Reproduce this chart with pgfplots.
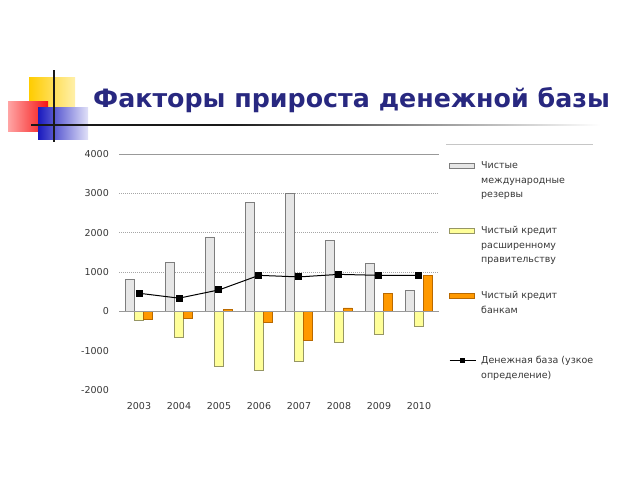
\documentclass[border=0pt]{standalone}
\usepackage{pgfplots}
\pgfplotsset{compat=1.18}
\usepackage{fontspec}
\setmainfont{DejaVu Sans}
\definecolor{titleblue}{RGB}{40,40,128}
\definecolor{grayfill}{RGB}{230,230,230}
\definecolor{grayedge}{RGB}{125,125,125}
\definecolor{yelfill}{RGB}{255,255,153}
\definecolor{yeledge}{RGB}{150,150,100}
\definecolor{orfill}{RGB}{255,153,0}
\definecolor{oredge}{RGB}{185,105,0}
\definecolor{txt}{RGB}{55,55,55}
\definecolor{goldA}{RGB}{255,204,0}
\definecolor{goldB}{RGB}{255,240,170}
\definecolor{redA}{RGB}{245,20,20}
\definecolor{redB}{RGB}{255,165,165}
\definecolor{blueA}{RGB}{25,25,190}
\definecolor{blueB}{RGB}{225,225,248}
\newcommand{\legtxt}[1]{\parbox[t]{150bp}{\fontsize{9.5bp}{14.5bp}\selectfont\raggedright #1}}
\pgfplotsset{
  boxlegend/.style={legend image code/.code={\draw[##1] (0bp,0.8bp) rectangle (25bp,5.8bp);}},
  linelegend/.style={legend image code/.code={\draw[mark repeat=2, mark phase=2, mark size=2.3bp, ##1] plot coordinates {(0bp,3.3bp) (13bp,3.3bp) (26bp,3.3bp)};}},
}
\begin{document}
\begin{tikzpicture}
\useasboundingbox (0,0) rectangle (640bp,-480bp);
% decoration
\shade[left color=goldA, right color=goldB] (29bp,-77bp) rectangle (75bp,-110bp);
\shade[left color=redB, right color=redA] (8bp,-101bp) rectangle (48bp,-131bp);
\shade[left color=blueA, right color=blueB] (38bp,-107bp) rectangle (88bp,-139bp);
\fill[black!90] (54bp-0.6bp,-70bp) rectangle (54bp+0.6bp,-142bp);
\fill[black!90] (31bp,-125.7bp) rectangle (230bp,-124.3bp);
\shade[left color=black!90, right color=white] (230bp,-125.7bp) rectangle (600bp,-124.3bp);
\node[anchor=base west, inner sep=0pt, text=titleblue, font=\bfseries\fontsize{25.3bp}{30bp}\selectfont] at (93bp,-107bp) {Факторы прироста денежной базы};
\draw[gray!45, line width=0.8bp] (446bp,-144bp) -- (593bp,-144bp);
\begin{axis}[
  at={(119bp,-390bp)}, anchor=south west,
  scale only axis, width=320bp, height=236bp,
  xmin=-0.5, xmax=7.5, ymin=-2000, ymax=4000,
  xtick={0,1,2,3,4,5,6,7},
  xticklabels={2003,2004,2005,2006,2007,2008,2009,2010},
  ytick={-2000,-1000,0,1000,2000,3000,4000},
  axis line style={draw=none}, major tick length=0pt,
  /pgf/number format/1000 sep={},
  /pgf/number format/assume math mode=true,
  ticklabel style={font=\fontsize{9.5bp}{11bp}\selectfont, text=txt},
  yticklabel style={anchor=east, inner sep=0pt, xshift=-10bp},
  xticklabel style={anchor=north, inner sep=0pt, yshift=-12bp},
  clip=false,
  legend style={at={(1.03125,0.9767)}, anchor=north west, draw=none, fill=none,
    inner xsep=0pt, inner ysep=0pt, column sep=5bp, row sep=0pt,
    cells={anchor=base west},
    nodes={inner sep=0pt, text height=9bp, text depth=56bp, text=txt}},
]
\draw[gray!70, line width=0.6bp, dash pattern=on 1bp off 1bp] (axis cs:-0.5,1000) -- (axis cs:7.5,1000);
\draw[gray!70, line width=0.6bp, dash pattern=on 1bp off 1bp] (axis cs:-0.5,2000) -- (axis cs:7.5,2000);
\draw[gray!70, line width=0.6bp, dash pattern=on 1bp off 1bp] (axis cs:-0.5,3000) -- (axis cs:7.5,3000);
\draw[gray!80, line width=0.8bp] (axis cs:-0.5,4000) -- (axis cs:7.5,4000);
\addplot[ybar, bar width=0.225, bar shift=-0.225, fill=grayfill, draw=grayedge, line width=0.7bp, boxlegend]
  coordinates {(0,810) (1,1250) (2,1890) (3,2770) (4,3000) (5,1810) (6,1220) (7,540)};
\addlegendentry{\legtxt{Чистые\\международные\\резервы}}
\addplot[ybar, bar width=0.225, bar shift=0, fill=yelfill, draw=yeledge, line width=0.7bp, boxlegend]
  coordinates {(0,-230) (1,-660) (2,-1390) (3,-1500) (4,-1265) (5,-785) (6,-580) (7,-375)};
\addlegendentry{\legtxt{Чистый кредит\\расширенному\\правительству}}
\addplot[ybar, bar width=0.225, bar shift=0.225, fill=orfill, draw=oredge, line width=0.7bp, boxlegend]
  coordinates {(0,-210) (1,-185) (2,40) (3,-280) (4,-745) (5,85) (6,460) (7,915)};
\addlegendentry{\legtxt{Чистый кредит\\банкам}}
\draw[gray!80, line width=0.8bp] (axis cs:-0.5,0) -- (axis cs:7.5,0);
\addplot[black, line width=1bp, mark=square*, mark size=3bp, mark options={solid, fill=black}, linelegend]
  coordinates {(0,460) (1,335) (2,545) (3,915) (4,875) (5,940) (6,915) (7,915)};
\addlegendentry{\legtxt{Денежная база (узкое\\определение)}}
\end{axis}
\end{tikzpicture}
\end{document}
